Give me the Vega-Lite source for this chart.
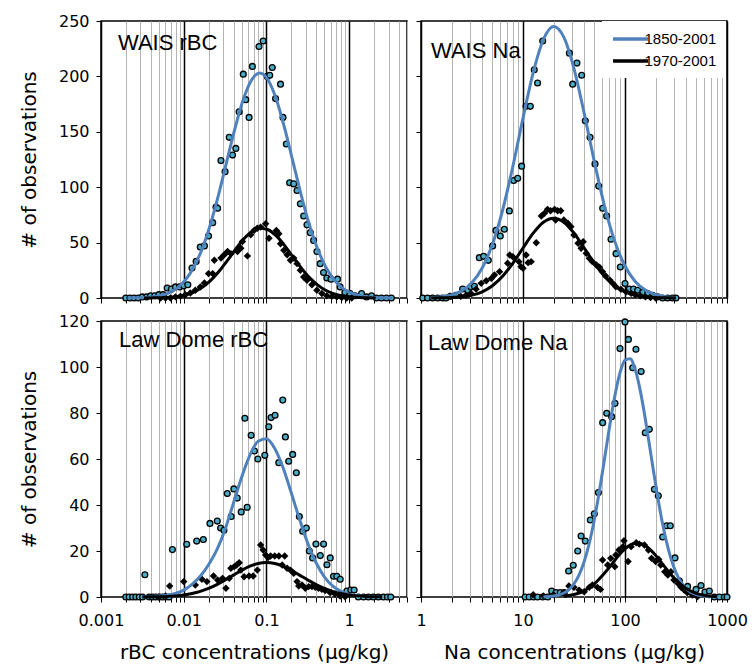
{
"$schema":"https://vega.github.io/schema/vega-lite/v6.json",
"background":"white",
"padding":{"left":18,"top":12,"right":5,"bottom":0},
"config":{
 "view":{"stroke":"black","strokeWidth":1.5},
 "axis":{"labelFont":"DejaVu Sans","labelFontSize":16,"labelColor":"black","titleFont":"DejaVu Sans","titleFontSize":20,"titleFontWeight":"normal","titleColor":"black","tickColor":"black","tickSize":5,"domain":false,"grid":false,"labelOverlap":false,"labelFlush":false},
 "title":{"font":"Liberation Sans","fontSize":22,"fontWeight":"normal","color":"black","anchor":"start","frame":"group","baseline":"alphabetic"}
},
"datasets":{
 "wr_a":[{"conc":0.001995,"obs":0},{"conc":0.002239,"obs":0},{"conc":0.002512,"obs":0},{"conc":0.002818,"obs":0},{"conc":0.003162,"obs":1},{"conc":0.003548,"obs":1},{"conc":0.003981,"obs":2},{"conc":0.004467,"obs":2},{"conc":0.005012,"obs":3},{"conc":0.005623,"obs":3},{"conc":0.00631,"obs":9},{"conc":0.007079,"obs":8},{"conc":0.007943,"obs":10},{"conc":0.008913,"obs":10},{"conc":0.01,"obs":11},{"conc":0.01122,"obs":12},{"conc":0.01259,"obs":27},{"conc":0.01413,"obs":33},{"conc":0.01585,"obs":46},{"conc":0.01778,"obs":47},{"conc":0.01995,"obs":56},{"conc":0.02239,"obs":68},{"conc":0.02455,"obs":82},{"conc":0.0257,"obs":81},{"conc":0.02818,"obs":124},{"conc":0.03162,"obs":114},{"conc":0.03548,"obs":145},{"conc":0.0389,"obs":129},{"conc":0.04266,"obs":135},{"conc":0.04677,"obs":168},{"conc":0.05248,"obs":202},{"conc":0.05623,"obs":179},{"conc":0.06166,"obs":163},{"conc":0.06761,"obs":209},{"conc":0.08128,"obs":227},{"conc":0.0912,"obs":232},{"conc":0.1023,"obs":200},{"conc":0.1096,"obs":201},{"conc":0.1175,"obs":208},{"conc":0.1288,"obs":180},{"conc":0.1479,"obs":193},{"conc":0.1585,"obs":163},{"conc":0.1738,"obs":139},{"conc":0.1905,"obs":104},{"conc":0.2138,"obs":103},{"conc":0.2344,"obs":97},{"conc":0.257,"obs":85},{"conc":0.2818,"obs":74},{"conc":0.309,"obs":66},{"conc":0.3388,"obs":59},{"conc":0.3715,"obs":52},{"conc":0.4074,"obs":42},{"conc":0.4467,"obs":31},{"conc":0.4898,"obs":23},{"conc":0.537,"obs":18},{"conc":0.6026,"obs":17},{"conc":0.7244,"obs":17},{"conc":0.7762,"obs":10},{"conc":0.8913,"obs":5},{"conc":1.023,"obs":4},{"conc":1.175,"obs":2},{"conc":1.413,"obs":4},{"conc":1.622,"obs":1},{"conc":1.862,"obs":2},{"conc":2.138,"obs":0},{"conc":2.455,"obs":0},{"conc":2.818,"obs":0},{"conc":3.236,"obs":0}],
 "wr_b":[{"conc":0.005248,"obs":0},{"conc":0.006026,"obs":0},{"conc":0.006918,"obs":0},{"conc":0.007943,"obs":1},{"conc":0.00912,"obs":1.5},{"conc":0.01047,"obs":3},{"conc":0.01202,"obs":4.5},{"conc":0.0138,"obs":7},{"conc":0.01585,"obs":10},{"conc":0.01778,"obs":13.5},{"conc":0.01995,"obs":22},{"conc":0.02239,"obs":22},{"conc":0.02344,"obs":34},{"conc":0.02818,"obs":36},{"conc":0.0309,"obs":39},{"conc":0.03388,"obs":42},{"conc":0.03715,"obs":40},{"conc":0.04467,"obs":42},{"conc":0.04898,"obs":45},{"conc":0.05129,"obs":51},{"conc":0.05888,"obs":38},{"conc":0.06457,"obs":57},{"conc":0.07079,"obs":61},{"conc":0.07762,"obs":63},{"conc":0.08511,"obs":64},{"conc":0.09772,"obs":67},{"conc":0.1072,"obs":54},{"conc":0.1318,"obs":61},{"conc":0.1413,"obs":58},{"conc":0.1479,"obs":49},{"conc":0.1622,"obs":43},{"conc":0.1778,"obs":39},{"conc":0.195,"obs":34},{"conc":0.2138,"obs":36},{"conc":0.2344,"obs":31},{"conc":0.257,"obs":25},{"conc":0.2818,"obs":19},{"conc":0.309,"obs":16},{"conc":0.3548,"obs":12},{"conc":0.4074,"obs":7},{"conc":0.4677,"obs":4},{"conc":0.537,"obs":2},{"conc":0.6166,"obs":1.5},{"conc":0.7079,"obs":1},{"conc":0.8128,"obs":0.5},{"conc":0.9333,"obs":0},{"conc":1.072,"obs":0}],
 "wr_fit":[{"period":"1850-2001","conc":0.00209,"obs":0.06},{"period":"1850-2001","conc":0.00263,"obs":0.18},{"period":"1850-2001","conc":0.00331,"obs":0.45},{"period":"1850-2001","conc":0.00417,"obs":1.0},{"period":"1850-2001","conc":0.00525,"obs":2.3},{"period":"1850-2001","conc":0.00661,"obs":4.6},{"period":"1850-2001","conc":0.00832,"obs":8.9},{"period":"1850-2001","conc":0.01047,"obs":16.2},{"period":"1850-2001","conc":0.01318,"obs":27.5},{"period":"1850-2001","conc":0.0166,"obs":43.9},{"period":"1850-2001","conc":0.0209,"obs":65.9},{"period":"1850-2001","conc":0.0263,"obs":92.9},{"period":"1850-2001","conc":0.0331,"obs":123.1},{"period":"1850-2001","conc":0.0417,"obs":153.2},{"period":"1850-2001","conc":0.0525,"obs":179.1},{"period":"1850-2001","conc":0.0661,"obs":196.7},{"period":"1850-2001","conc":0.0832,"obs":203},{"period":"1850-2001","conc":0.1047,"obs":196.7},{"period":"1850-2001","conc":0.1318,"obs":179.1},{"period":"1850-2001","conc":0.166,"obs":153.2},{"period":"1850-2001","conc":0.209,"obs":123.1},{"period":"1850-2001","conc":0.263,"obs":92.9},{"period":"1850-2001","conc":0.331,"obs":65.9},{"period":"1850-2001","conc":0.417,"obs":43.9},{"period":"1850-2001","conc":0.525,"obs":27.5},{"period":"1850-2001","conc":0.661,"obs":16.2},{"period":"1850-2001","conc":0.832,"obs":8.9},{"period":"1850-2001","conc":1.047,"obs":4.6},{"period":"1850-2001","conc":1.318,"obs":2.3},{"period":"1850-2001","conc":1.66,"obs":1.0},{"period":"1850-2001","conc":2.09,"obs":0.45},{"period":"1850-2001","conc":2.63,"obs":0.18},{"period":"1850-2001","conc":3.31,"obs":0.06},
  {"period":"1970-2001","conc":0.00331,"obs":0.04},{"period":"1970-2001","conc":0.00417,"obs":0.11},{"period":"1970-2001","conc":0.00525,"obs":0.27},{"period":"1970-2001","conc":0.00661,"obs":0.65},{"period":"1970-2001","conc":0.00832,"obs":1.41},{"period":"1970-2001","conc":0.01047,"obs":2.86},{"period":"1970-2001","conc":0.01318,"obs":5.4},{"period":"1970-2001","conc":0.0166,"obs":9.4},{"period":"1970-2001","conc":0.0209,"obs":15.4},{"period":"1970-2001","conc":0.0263,"obs":23.4},{"period":"1970-2001","conc":0.0331,"obs":33.1},{"period":"1970-2001","conc":0.0417,"obs":43.3},{"period":"1970-2001","conc":0.0525,"obs":52.8},{"period":"1970-2001","conc":0.0661,"obs":59.8},{"period":"1970-2001","conc":0.0832,"obs":62.9},{"period":"1970-2001","conc":0.1047,"obs":61.6},{"period":"1970-2001","conc":0.1318,"obs":56.0},{"period":"1970-2001","conc":0.166,"obs":47.3},{"period":"1970-2001","conc":0.209,"obs":37.2},{"period":"1970-2001","conc":0.263,"obs":27.2},{"period":"1970-2001","conc":0.331,"obs":18.4},{"period":"1970-2001","conc":0.417,"obs":11.6},{"period":"1970-2001","conc":0.525,"obs":6.8},{"period":"1970-2001","conc":0.661,"obs":3.7},{"period":"1970-2001","conc":0.832,"obs":1.9},{"period":"1970-2001","conc":1.047,"obs":0.89},{"period":"1970-2001","conc":1.318,"obs":0.39},{"period":"1970-2001","conc":1.66,"obs":0.16},{"period":"1970-2001","conc":2.09,"obs":0.06}],
 "wn_a":[{"conc":1.04,"obs":0},{"conc":1.16,"obs":0},{"conc":1.3,"obs":0},{"conc":1.46,"obs":0},{"conc":1.63,"obs":0},{"conc":1.76,"obs":0},{"conc":1.94,"obs":1.5},{"conc":2.2,"obs":2.4},{"conc":2.56,"obs":8.1},{"conc":2.87,"obs":6.9},{"conc":3.09,"obs":10},{"conc":3.34,"obs":10.5},{"conc":3.73,"obs":36.4},{"conc":4.11,"obs":37.6},{"conc":4.57,"obs":34},{"conc":5.04,"obs":47},{"conc":5.43,"obs":61},{"conc":5.99,"obs":56},{"conc":6.56,"obs":62},{"conc":7.35,"obs":78.6},{"conc":8.1,"obs":106},{"conc":8.87,"obs":108},{"conc":9.7,"obs":119},{"conc":10.7,"obs":173},{"conc":11.8,"obs":173},{"conc":12.9,"obs":206},{"conc":13.9,"obs":194},{"conc":15.6,"obs":232},{"conc":28.5,"obs":221},{"conc":30.7,"obs":193},{"conc":33.8,"obs":212},{"conc":37.6,"obs":201},{"conc":40.8,"obs":160},{"conc":45.4,"obs":145},{"conc":50.8,"obs":121},{"conc":55.2,"obs":101},{"conc":60.4,"obs":81},{"conc":66.1,"obs":74},{"conc":72.9,"obs":53},{"conc":81.7,"obs":40},{"conc":90,"obs":28},{"conc":100,"obs":13},{"conc":110,"obs":8},{"conc":121,"obs":8},{"conc":133,"obs":7},{"conc":149,"obs":5},{"conc":167,"obs":4},{"conc":187,"obs":2.4},{"conc":209,"obs":1},{"conc":234,"obs":0},{"conc":262,"obs":0},{"conc":293,"obs":0},{"conc":316,"obs":0}],
 "wn_b":[{"conc":2.455,"obs":1.5},{"conc":2.754,"obs":2.4},{"conc":3.09,"obs":4},{"conc":3.467,"obs":8},{"conc":3.89,"obs":13.2},{"conc":4.365,"obs":15.6},{"conc":4.898,"obs":17.7},{"conc":5.248,"obs":20.8},{"conc":5.888,"obs":23.8},{"conc":7.079,"obs":31.3},{"conc":7.413,"obs":38.8},{"conc":7.943,"obs":37.3},{"conc":9.12,"obs":32.8},{"conc":9.55,"obs":28.3},{"conc":10,"obs":26.8},{"conc":10.72,"obs":38.8},{"conc":11.22,"obs":31.9},{"conc":12.02,"obs":32.8},{"conc":13.49,"obs":49.9},{"conc":15.14,"obs":74},{"conc":16.22,"obs":76.4},{"conc":17.38,"obs":80},{"conc":18.62,"obs":78.8},{"conc":20.42,"obs":80},{"conc":20.89,"obs":70.4},{"conc":21.88,"obs":78.8},{"conc":23.44,"obs":78.8},{"conc":25.12,"obs":70.4},{"conc":27.54,"obs":67.4},{"conc":29.51,"obs":64.4},{"conc":31.62,"obs":56.9},{"conc":34.67,"obs":49.4},{"conc":37.15,"obs":44.9},{"conc":38.9,"obs":50.8},{"conc":41.69,"obs":40.3},{"conc":44.67,"obs":35.8},{"conc":47.86,"obs":32.8},{"conc":52.48,"obs":29.8},{"conc":56.23,"obs":27.7},{"conc":60.26,"obs":23.8},{"conc":64.57,"obs":19.9},{"conc":70.79,"obs":16.2},{"conc":75.86,"obs":13.2},{"conc":81.28,"obs":10.2},{"conc":91.2,"obs":7.8},{"conc":102.3,"obs":5.7},{"conc":114.8,"obs":4.2},{"conc":125.9,"obs":3},{"conc":141.3,"obs":2},{"conc":158.5,"obs":1},{"conc":177.8,"obs":0.5},{"conc":199.5,"obs":0}],
 "wn_fit":[{"period":"1850-2001","conc":1.259,"obs":0.39},{"period":"1850-2001","conc":1.585,"obs":1.1},{"period":"1850-2001","conc":1.995,"obs":2.8},{"period":"1850-2001","conc":2.512,"obs":6.5},{"period":"1850-2001","conc":3.162,"obs":13.9},{"period":"1850-2001","conc":3.981,"obs":27.1},{"period":"1850-2001","conc":5.012,"obs":48.4},{"period":"1850-2001","conc":6.31,"obs":79.2},{"period":"1850-2001","conc":7.943,"obs":118.5},{"period":"1850-2001","conc":10,"obs":162.3},{"period":"1850-2001","conc":12.59,"obs":203.4},{"period":"1850-2001","conc":15.85,"obs":233.3},{"period":"1850-2001","conc":19.95,"obs":245},{"period":"1850-2001","conc":25.12,"obs":235.4},{"period":"1850-2001","conc":31.62,"obs":207.1},{"period":"1850-2001","conc":39.81,"obs":166.6},{"period":"1850-2001","conc":50.12,"obs":122.8},{"period":"1850-2001","conc":63.1,"obs":82.8},{"period":"1850-2001","conc":79.43,"obs":51.1},{"period":"1850-2001","conc":100,"obs":28.9},{"period":"1850-2001","conc":125.9,"obs":14.9},{"period":"1850-2001","conc":158.5,"obs":7.1},{"period":"1850-2001","conc":199.5,"obs":3.1},{"period":"1850-2001","conc":251.2,"obs":1.2},{"period":"1850-2001","conc":316.2,"obs":0.44},
  {"period":"1970-2001","conc":1.259,"obs":0.04},{"period":"1970-2001","conc":1.585,"obs":0.13},{"period":"1970-2001","conc":1.995,"obs":0.4},{"period":"1970-2001","conc":2.512,"obs":1.06},{"period":"1970-2001","conc":3.162,"obs":2.6},{"period":"1970-2001","conc":3.981,"obs":5.6},{"period":"1970-2001","conc":5.012,"obs":11.1},{"period":"1970-2001","conc":6.31,"obs":19.6},{"period":"1970-2001","conc":7.943,"obs":31.3},{"period":"1970-2001","conc":10,"obs":45.1},{"period":"1970-2001","conc":12.59,"obs":58.5},{"period":"1970-2001","conc":15.85,"obs":68.4},{"period":"1970-2001","conc":19.95,"obs":72},{"period":"1970-2001","conc":25.12,"obs":68.4},{"period":"1970-2001","conc":31.62,"obs":58.5},{"period":"1970-2001","conc":39.81,"obs":45.1},{"period":"1970-2001","conc":50.12,"obs":31.3},{"period":"1970-2001","conc":63.1,"obs":19.6},{"period":"1970-2001","conc":79.43,"obs":11.1},{"period":"1970-2001","conc":100,"obs":5.6},{"period":"1970-2001","conc":125.9,"obs":2.6},{"period":"1970-2001","conc":158.5,"obs":1.06},{"period":"1970-2001","conc":199.5,"obs":0.4},{"period":"1970-2001","conc":251.2,"obs":0.13},{"period":"1970-2001","conc":316.2,"obs":0.04}],
 "lr_a":[{"conc":0.001995,"obs":0},{"conc":0.00219,"obs":0},{"conc":0.00241,"obs":0},{"conc":0.00264,"obs":0},{"conc":0.0029,"obs":0},{"conc":0.00318,"obs":0},{"conc":0.00339,"obs":9.7},{"conc":0.00382,"obs":0},{"conc":0.00419,"obs":0},{"conc":0.0046,"obs":0},{"conc":0.00505,"obs":0},{"conc":0.00554,"obs":0},{"conc":0.00607,"obs":0},{"conc":0.00666,"obs":0},{"conc":0.0073,"obs":20.6},{"conc":0.01087,"obs":22.9},{"conc":0.01435,"obs":24.3},{"conc":0.01727,"obs":25},{"conc":0.02075,"obs":32},{"conc":0.02545,"obs":33},{"conc":0.02793,"obs":30},{"conc":0.03063,"obs":29},{"conc":0.03358,"obs":45},{"conc":0.0375,"obs":35},{"conc":0.04039,"obs":47},{"conc":0.04433,"obs":43},{"conc":0.04953,"obs":37},{"conc":0.05483,"obs":77.7},{"conc":0.05848,"obs":39},{"conc":0.06531,"obs":70.3},{"conc":0.07161,"obs":63.5},{"conc":0.07866,"obs":60},{"conc":0.0955,"obs":61.6},{"conc":0.1067,"obs":74},{"conc":0.1138,"obs":78},{"conc":0.1271,"obs":79},{"conc":0.1409,"obs":58.4},{"conc":0.1574,"obs":85.6},{"conc":0.1694,"obs":69.6},{"conc":0.1858,"obs":59},{"conc":0.2075,"obs":62},{"conc":0.2297,"obs":54},{"conc":0.2498,"obs":35},{"conc":0.2741,"obs":28.6},{"conc":0.3033,"obs":30},{"conc":0.3297,"obs":20},{"conc":0.3614,"obs":17},{"conc":0.3963,"obs":23},{"conc":0.4475,"obs":18},{"conc":0.4907,"obs":23},{"conc":0.5381,"obs":14},{"conc":0.5902,"obs":17},{"conc":0.6471,"obs":9},{"conc":0.7096,"obs":9},{"conc":0.7793,"obs":7.7},{"conc":0.9376,"obs":2.6},{"conc":1.047,"obs":3},{"conc":1.148,"obs":3},{"conc":1.29,"obs":0},{"conc":1.49,"obs":0},{"conc":1.71,"obs":0},{"conc":1.96,"obs":0},{"conc":2.25,"obs":0},{"conc":2.59,"obs":0},{"conc":2.9,"obs":0},{"conc":3.18,"obs":0}],
 "lr_b":[{"conc":0.005012,"obs":0},{"conc":0.006026,"obs":0.5},{"conc":0.006761,"obs":4.8},{"conc":0.01,"obs":6.7},{"conc":0.0138,"obs":5.2},{"conc":0.0166,"obs":7.7},{"conc":0.01905,"obs":6.7},{"conc":0.02291,"obs":9.1},{"conc":0.0257,"obs":7.4},{"conc":0.02951,"obs":8.1},{"conc":0.03236,"obs":3.8},{"conc":0.03548,"obs":8.1},{"conc":0.03715,"obs":12.5},{"conc":0.04074,"obs":13.2},{"conc":0.04365,"obs":13.9},{"conc":0.04677,"obs":14.9},{"conc":0.04898,"obs":11.7},{"conc":0.0537,"obs":8.8},{"conc":0.06166,"obs":9.1},{"conc":0.06918,"obs":9.1},{"conc":0.07762,"obs":11.7},{"conc":0.08511,"obs":22.6},{"conc":0.0912,"obs":20.4},{"conc":0.09772,"obs":18.3},{"conc":0.1047,"obs":17.2},{"conc":0.1122,"obs":17.8},{"conc":0.1259,"obs":17.8},{"conc":0.1413,"obs":17.8},{"conc":0.1549,"obs":13.9},{"conc":0.166,"obs":17.8},{"conc":0.1778,"obs":12.5},{"conc":0.195,"obs":11.7},{"conc":0.2138,"obs":10.3},{"conc":0.2344,"obs":6.7},{"conc":0.2455,"obs":4.8},{"conc":0.2692,"obs":5.2},{"conc":0.2951,"obs":3.8},{"conc":0.3236,"obs":4.5},{"conc":0.3548,"obs":4.5},{"conc":0.389,"obs":4.2},{"conc":0.4266,"obs":3.8},{"conc":0.4677,"obs":3.3},{"conc":0.5129,"obs":2.8},{"conc":0.5888,"obs":1.9},{"conc":0.6761,"obs":1.3},{"conc":0.7762,"obs":0.4},{"conc":0.8913,"obs":0.1}],
 "lr_fit":[{"period":"1850-2001","conc":0.003162,"obs":0.1},{"period":"1850-2001","conc":0.003981,"obs":0.2},{"period":"1850-2001","conc":0.005012,"obs":0.4},{"period":"1850-2001","conc":0.00631,"obs":0.8},{"period":"1850-2001","conc":0.007943,"obs":1.5},{"period":"1850-2001","conc":0.01,"obs":3},{"period":"1850-2001","conc":0.01259,"obs":5.5},{"period":"1850-2001","conc":0.01585,"obs":9},{"period":"1850-2001","conc":0.01995,"obs":14},{"period":"1850-2001","conc":0.02512,"obs":20.5},{"period":"1850-2001","conc":0.03162,"obs":29.4},{"period":"1850-2001","conc":0.03981,"obs":40.7},{"period":"1850-2001","conc":0.05012,"obs":52.1},{"period":"1850-2001","conc":0.0631,"obs":61.7},{"period":"1850-2001","conc":0.07943,"obs":67.7},{"period":"1850-2001","conc":0.1,"obs":68.8},{"period":"1850-2001","conc":0.1259,"obs":64.6},{"period":"1850-2001","conc":0.1585,"obs":56.3},{"period":"1850-2001","conc":0.1995,"obs":45.3},{"period":"1850-2001","conc":0.2512,"obs":33.8},{"period":"1850-2001","conc":0.3162,"obs":23.3},{"period":"1850-2001","conc":0.3981,"obs":14.9},{"period":"1850-2001","conc":0.5012,"obs":8.8},{"period":"1850-2001","conc":0.631,"obs":4.8},{"period":"1850-2001","conc":0.7943,"obs":2.45},{"period":"1850-2001","conc":1,"obs":1.15},{"period":"1850-2001","conc":1.259,"obs":0.5},{"period":"1850-2001","conc":1.585,"obs":0.2},{"period":"1850-2001","conc":1.995,"obs":0.08},
  {"period":"1970-2001","conc":0.003162,"obs":0.03},{"period":"1970-2001","conc":0.003981,"obs":0.06},{"period":"1970-2001","conc":0.005012,"obs":0.12},{"period":"1970-2001","conc":0.00631,"obs":0.25},{"period":"1970-2001","conc":0.007943,"obs":0.49},{"period":"1970-2001","conc":0.01,"obs":0.88},{"period":"1970-2001","conc":0.01259,"obs":1.51},{"period":"1970-2001","conc":0.01585,"obs":2.45},{"period":"1970-2001","conc":0.01995,"obs":3.74},{"period":"1970-2001","conc":0.02512,"obs":5.4},{"period":"1970-2001","conc":0.03162,"obs":7.4},{"period":"1970-2001","conc":0.03981,"obs":9.5},{"period":"1970-2001","conc":0.05012,"obs":11.6},{"period":"1970-2001","conc":0.0631,"obs":13.4},{"period":"1970-2001","conc":0.07943,"obs":14.6},{"period":"1970-2001","conc":0.1,"obs":15},{"period":"1970-2001","conc":0.1259,"obs":14.6},{"period":"1970-2001","conc":0.1585,"obs":13.4},{"period":"1970-2001","conc":0.1995,"obs":11.6},{"period":"1970-2001","conc":0.2512,"obs":9.5},{"period":"1970-2001","conc":0.3162,"obs":7.4},{"period":"1970-2001","conc":0.3981,"obs":5.4},{"period":"1970-2001","conc":0.5012,"obs":3.74},{"period":"1970-2001","conc":0.631,"obs":2.45},{"period":"1970-2001","conc":0.7943,"obs":1.51},{"period":"1970-2001","conc":1,"obs":0.88},{"period":"1970-2001","conc":1.259,"obs":0.49},{"period":"1970-2001","conc":1.585,"obs":0.25},{"period":"1970-2001","conc":1.995,"obs":0.12},{"period":"1970-2001","conc":2.512,"obs":0.06}],
 "ln_a":[{"conc":10.5,"obs":0},{"conc":11.5,"obs":0},{"conc":12.7,"obs":0},{"conc":13.9,"obs":0},{"conc":15.6,"obs":0},{"conc":17.5,"obs":0},{"conc":19.1,"obs":2.6},{"conc":21.1,"obs":1.9},{"conc":23.2,"obs":1.9},{"conc":25.4,"obs":1.9},{"conc":28,"obs":11.3},{"conc":31.1,"obs":13.8},{"conc":34.4,"obs":20},{"conc":37.1,"obs":26.5},{"conc":40.8,"obs":24.3},{"conc":45.7,"obs":33.5},{"conc":50,"obs":36.2},{"conc":54.8,"obs":45.4},{"conc":60.4,"obs":75.8},{"conc":66.1,"obs":79.9},{"conc":74,"obs":78.4},{"conc":79.8,"obs":84.2},{"conc":89.3,"obs":108},{"conc":100,"obs":119.6},{"conc":108,"obs":112},{"conc":119,"obs":99.7},{"conc":128,"obs":107.7},{"conc":144,"obs":98},{"conc":158,"obs":71.4},{"conc":173,"obs":72.9},{"conc":194,"obs":46.8},{"conc":212,"obs":44},{"conc":234,"obs":26.1},{"conc":256,"obs":31},{"conc":278,"obs":31},{"conc":309,"obs":17},{"conc":341,"obs":7},{"conc":411,"obs":4.6},{"conc":497,"obs":3.3},{"conc":556,"obs":5},{"conc":608,"obs":2.2},{"conc":671,"obs":2.6},{"conc":752,"obs":0},{"conc":841,"obs":0},{"conc":942,"obs":0},{"conc":1000,"obs":0}],
 "ln_b":[{"conc":12.59,"obs":1},{"conc":15.85,"obs":0.5},{"conc":19.95,"obs":1},{"conc":25.12,"obs":2},{"conc":28.18,"obs":4.8},{"conc":31.62,"obs":4.2},{"conc":35.48,"obs":3},{"conc":39.81,"obs":2.3},{"conc":44.67,"obs":4.2},{"conc":47.86,"obs":5.2},{"conc":53.7,"obs":4.2},{"conc":57.54,"obs":3.3},{"conc":60.26,"obs":16.1},{"conc":67.61,"obs":13.9},{"conc":72.44,"obs":16.8},{"conc":79.43,"obs":13.2},{"conc":81.28,"obs":18.3},{"conc":87.1,"obs":20.4},{"conc":95.5,"obs":21.9},{"conc":97.72,"obs":24.5},{"conc":107.2,"obs":15.4},{"conc":114.8,"obs":21.9},{"conc":128.8,"obs":23.6},{"conc":138,"obs":23},{"conc":154.9,"obs":22.6},{"conc":169.8,"obs":20.4},{"conc":182,"obs":16.8},{"conc":199.5,"obs":15.4},{"conc":213.8,"obs":16.4},{"conc":223.9,"obs":13.9},{"conc":245.5,"obs":11},{"conc":263,"obs":9.6},{"conc":281.8,"obs":11},{"conc":302,"obs":7.4},{"conc":331.1,"obs":5.9},{"conc":354.8,"obs":4.2},{"conc":380.2,"obs":3},{"conc":407.4,"obs":1.9},{"conc":457.1,"obs":0.9},{"conc":512.9,"obs":0.1}],
 "ln_fit":[{"period":"1850-2001","conc":15.85,"obs":0.08},{"period":"1850-2001","conc":17.78,"obs":0.19},{"period":"1850-2001","conc":19.95,"obs":0.42},{"period":"1850-2001","conc":22.39,"obs":0.87},{"period":"1850-2001","conc":25.12,"obs":1.72},{"period":"1850-2001","conc":28.18,"obs":3.22},{"period":"1850-2001","conc":31.62,"obs":5.7},{"period":"1850-2001","conc":35.48,"obs":9.6},{"period":"1850-2001","conc":39.81,"obs":15.4},{"period":"1850-2001","conc":44.67,"obs":23.4},{"period":"1850-2001","conc":50.12,"obs":33.8},{"period":"1850-2001","conc":56.23,"obs":46.3},{"period":"1850-2001","conc":63.1,"obs":60.3},{"period":"1850-2001","conc":70.79,"obs":74.5},{"period":"1850-2001","conc":79.43,"obs":87.3},{"period":"1850-2001","conc":89.13,"obs":97.3},{"period":"1850-2001","conc":100,"obs":103},{"period":"1850-2001","conc":112.2,"obs":103.6},{"period":"1850-2001","conc":125.9,"obs":98.9},{"period":"1850-2001","conc":141.3,"obs":89.6},{"period":"1850-2001","conc":158.5,"obs":77.2},{"period":"1850-2001","conc":177.8,"obs":63.1},{"period":"1850-2001","conc":199.5,"obs":49},{"period":"1850-2001","conc":223.9,"obs":36.1},{"period":"1850-2001","conc":251.2,"obs":25.3},{"period":"1850-2001","conc":281.8,"obs":16.8},{"period":"1850-2001","conc":316.2,"obs":10.6},{"period":"1850-2001","conc":354.8,"obs":6.4},{"period":"1850-2001","conc":398.1,"obs":3.6},{"period":"1850-2001","conc":446.7,"obs":1.96},{"period":"1850-2001","conc":501.2,"obs":1.0},{"period":"1850-2001","conc":562.3,"obs":0.49},{"period":"1850-2001","conc":631,"obs":0.23},{"period":"1850-2001","conc":707.9,"obs":0.1},{"period":"1850-2001","conc":794.3,"obs":0.04},
  {"period":"1970-2001","conc":25.12,"obs":0.37},{"period":"1970-2001","conc":28.18,"obs":0.65},{"period":"1970-2001","conc":31.62,"obs":1.09},{"period":"1970-2001","conc":35.48,"obs":1.75},{"period":"1970-2001","conc":39.81,"obs":2.7},{"period":"1970-2001","conc":44.67,"obs":4.0},{"period":"1970-2001","conc":50.12,"obs":5.7},{"period":"1970-2001","conc":56.23,"obs":7.9},{"period":"1970-2001","conc":63.1,"obs":10.4},{"period":"1970-2001","conc":70.79,"obs":13.1},{"period":"1970-2001","conc":79.43,"obs":16.0},{"period":"1970-2001","conc":89.13,"obs":18.7},{"period":"1970-2001","conc":100,"obs":20.9},{"period":"1970-2001","conc":112.2,"obs":22.6},{"period":"1970-2001","conc":125.9,"obs":23.4},{"period":"1970-2001","conc":141.3,"obs":23.3},{"period":"1970-2001","conc":158.5,"obs":22.3},{"period":"1970-2001","conc":177.8,"obs":20.5},{"period":"1970-2001","conc":199.5,"obs":18.1},{"period":"1970-2001","conc":223.9,"obs":15.4},{"period":"1970-2001","conc":251.2,"obs":12.5},{"period":"1970-2001","conc":281.8,"obs":9.8},{"period":"1970-2001","conc":316.2,"obs":7.4},{"period":"1970-2001","conc":354.8,"obs":5.4},{"period":"1970-2001","conc":398.1,"obs":3.7},{"period":"1970-2001","conc":446.7,"obs":2.5},{"period":"1970-2001","conc":501.2,"obs":1.6},{"period":"1970-2001","conc":562.3,"obs":0.98},{"period":"1970-2001","conc":631,"obs":0.58},{"period":"1970-2001","conc":707.9,"obs":0.33},{"period":"1970-2001","conc":794.3,"obs":0.18}]
},
"spacing":5,
"resolve":{"scale":{"color":"independent"},"legend":{"color":"independent"}},
"vconcat":[
 {"hconcat":[
  {"width":306,"height":277,
   "title":{"text":"WAIS rBC","offset":-42,"dx":17},
   "encoding":{
    "x":{"field":"conc","type":"quantitative","scale":{"type":"log","domain":[0.001,5],"nice":false},
     "axis":{"values":[0.001,0.002,0.003,0.004,0.005,0.006,0.007,0.008,0.009,0.01,0.02,0.03,0.04,0.05,0.06,0.07,0.08,0.09,0.1,0.2,0.3,0.4,0.5,0.6,0.7,0.8,0.9,1,2,3,4,5],"labels":false,"title":null,"grid":true,
      "gridColor":{"condition":{"test":"abs(log(datum.value)/LN10 - round(log(datum.value)/LN10)) < 0.001","value":"black"},"value":"#b4b4b4"},
      "gridWidth":{"condition":{"test":"abs(log(datum.value)/LN10 - round(log(datum.value)/LN10)) < 0.001","value":1.5},"value":1}}},
    "y":{"field":"obs","type":"quantitative","scale":{"domain":[0,250],"nice":false},"axis":{"values":[0,50,100,150,200,250],"title":"# of observations","titlePadding":19,"labelPadding":7}}
   },
   "layer":[
    {"data":{"name":"wr_a"},"mark":{"type":"point","shape":"circle","filled":true,"fill":"#4bacc6","stroke":"black","strokeWidth":1.3,"size":34,"opacity":1}},
    {"data":{"name":"wr_b"},"mark":{"type":"point","shape":"diamond","filled":true,"fill":"black","size":55,"opacity":1}},
    {"data":{"name":"wr_fit"},"mark":{"type":"line","interpolate":"monotone","strokeWidth":3},"encoding":{"color":{"field":"period","type":"nominal","scale":{"domain":["1850-2001","1970-2001"],"range":["#4f81bd","#000000"]},"legend":null}}}
   ]},
  {"width":306,"height":277,
   "title":{"text":"WAIS Na","offset":-42,"dx":10},
   "encoding":{
    "x":{"field":"conc","type":"quantitative","scale":{"type":"log","domain":[1,1000],"nice":false},
     "axis":{"values":[1,2,3,4,5,6,7,8,9,10,20,30,40,50,60,70,80,90,100,200,300,400,500,600,700,800,900,1000],"labels":false,"title":null,"grid":true,
      "gridColor":{"condition":{"test":"abs(log(datum.value)/LN10 - round(log(datum.value)/LN10)) < 0.001","value":"black"},"value":"#b4b4b4"},
      "gridWidth":{"condition":{"test":"abs(log(datum.value)/LN10 - round(log(datum.value)/LN10)) < 0.001","value":1.5},"value":1}}},
    "y":{"field":"obs","type":"quantitative","scale":{"domain":[0,250],"nice":false},"axis":{"values":[0,50,100,150,200,250],"title":null,"labels":false}}
   },
   "layer":[
    {"data":{"name":"wn_a"},"mark":{"type":"point","shape":"circle","filled":true,"fill":"#4bacc6","stroke":"black","strokeWidth":1.3,"size":34,"opacity":1}},
    {"data":{"name":"wn_b"},"mark":{"type":"point","shape":"diamond","filled":true,"fill":"black","size":55,"opacity":1}},
    {"data":{"name":"wn_fit"},"mark":{"type":"line","interpolate":"monotone","strokeWidth":3},"encoding":{"color":{"field":"period","type":"nominal","scale":{"domain":["1850-2001","1970-2001"],"range":["#4f81bd","#000000"]},
      "legend":{"orient":"none","legendX":181,"legendY":0,"title":null,"padding":9,"fillColor":"white","symbolType":"M-2.5,0H2.5","symbolSize":196,"symbolOffset":10.5,"symbolStrokeWidth":3.5,"labelFont":"Liberation Sans","labelFontSize":15,"labelColor":"black","labelOffset":5,"rowPadding":5}}}}
   ]}
 ],"spacing":5,"resolve":{"scale":{"color":"independent"},"legend":{"color":"independent"}}},
 {"hconcat":[
  {"width":306,"height":276,
   "title":{"text":"Law Dome rBC","offset":-39,"dx":18},
   "encoding":{
    "x":{"field":"conc","type":"quantitative","scale":{"type":"log","domain":[0.001,5],"nice":false},
     "axis":{"values":[0.001,0.002,0.003,0.004,0.005,0.006,0.007,0.008,0.009,0.01,0.02,0.03,0.04,0.05,0.06,0.07,0.08,0.09,0.1,0.2,0.3,0.4,0.5,0.6,0.7,0.8,0.9,1,2,3,4,5],"format":"~g","labelExpr":"abs(log(datum.value)/LN10 - round(log(datum.value)/LN10)) < 0.001 ? datum.label : ''","labelPadding":10,"title":"rBC concentrations (µg/kg)","titlePadding":14,"grid":true,
      "gridColor":{"condition":{"test":"abs(log(datum.value)/LN10 - round(log(datum.value)/LN10)) < 0.001","value":"black"},"value":"#b4b4b4"},
      "gridWidth":{"condition":{"test":"abs(log(datum.value)/LN10 - round(log(datum.value)/LN10)) < 0.001","value":1.5},"value":1}}},
    "y":{"field":"obs","type":"quantitative","scale":{"domain":[0,120],"nice":false},"axis":{"values":[0,20,40,60,80,100,120],"title":"# of observations","titlePadding":19,"labelPadding":7}}
   },
   "layer":[
    {"data":{"name":"lr_a"},"mark":{"type":"point","shape":"circle","filled":true,"fill":"#4bacc6","stroke":"black","strokeWidth":1.3,"size":34,"opacity":1}},
    {"data":{"name":"lr_b"},"mark":{"type":"point","shape":"diamond","filled":true,"fill":"black","size":55,"opacity":1}},
    {"data":{"name":"lr_fit"},"mark":{"type":"line","interpolate":"monotone","strokeWidth":3},"encoding":{"color":{"field":"period","type":"nominal","scale":{"domain":["1850-2001","1970-2001"],"range":["#4f81bd","#000000"]},"legend":null}}}
   ]},
  {"width":306,"height":276,
   "title":{"text":"Law Dome Na","offset":-39,"dx":7},
   "encoding":{
    "x":{"field":"conc","type":"quantitative","scale":{"type":"log","domain":[1,1000],"nice":false},
     "axis":{"values":[1,2,3,4,5,6,7,8,9,10,20,30,40,50,60,70,80,90,100,200,300,400,500,600,700,800,900,1000],"format":"~g","labelExpr":"abs(log(datum.value)/LN10 - round(log(datum.value)/LN10)) < 0.001 ? datum.label : ''","labelPadding":10,"title":"Na concentrations (µg/kg)","titlePadding":14,"grid":true,
      "gridColor":{"condition":{"test":"abs(log(datum.value)/LN10 - round(log(datum.value)/LN10)) < 0.001","value":"black"},"value":"#b4b4b4"},
      "gridWidth":{"condition":{"test":"abs(log(datum.value)/LN10 - round(log(datum.value)/LN10)) < 0.001","value":1.5},"value":1}}},
    "y":{"field":"obs","type":"quantitative","scale":{"domain":[0,120],"nice":false},"axis":{"values":[0,20,40,60,80,100,120],"title":null,"labels":false}}
   },
   "layer":[
    {"data":{"name":"ln_a"},"mark":{"type":"point","shape":"circle","filled":true,"fill":"#4bacc6","stroke":"black","strokeWidth":1.3,"size":34,"opacity":1}},
    {"data":{"name":"ln_b"},"mark":{"type":"point","shape":"diamond","filled":true,"fill":"black","size":55,"opacity":1}},
    {"data":{"name":"ln_fit"},"mark":{"type":"line","interpolate":"monotone","strokeWidth":3},"encoding":{"color":{"field":"period","type":"nominal","scale":{"domain":["1850-2001","1970-2001"],"range":["#4f81bd","#000000"]},"legend":null}}}
   ]}
 ],"spacing":5,"resolve":{"scale":{"color":"independent"},"legend":{"color":"independent"}}}
]
}
